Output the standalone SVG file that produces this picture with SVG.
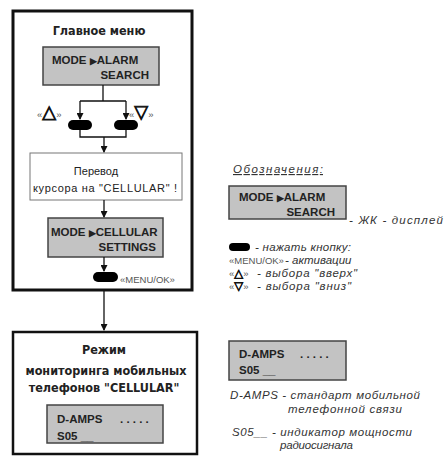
<svg xmlns="http://www.w3.org/2000/svg" width="447" height="456" viewBox="0 0 447 456">
  <style>
    .frame { fill: #fff; stroke: #111; }
    .lcd { fill: #c3c3c3; stroke: #444; stroke-width: 1.5; }
    .note { fill: #fff; stroke: #777; stroke-width: 1; }
    .btn { fill: #000; }
    .lcdt { font-family: "Liberation Sans", Arial, sans-serif; font-weight: bold; font-size: 11.5px; fill: #222; }
    .head { font-family: "DejaVu Sans Condensed", "DejaVu Sans", sans-serif; font-stretch: condensed; font-weight: bold; font-size: 12.5px; fill: #222; }
    .plain { font-family: "Liberation Sans", Arial, sans-serif; font-size: 11px; fill: #222; }
    .leg { font-family: "Liberation Sans", Arial, sans-serif; font-style: italic; font-size: 11.5px; fill: #333; }
    .quo { font-family: "Liberation Sans", Arial, sans-serif; font-size: 9.5px; fill: #555; }
    .tri { font-family: "DejaVu Sans", sans-serif; font-size: 18px; font-weight: bold; fill: #111; stroke: #111; stroke-width: 0.8; }
    .tri-s { font-family: "DejaVu Sans", sans-serif; font-size: 11.5px; font-weight: bold; fill: #111; stroke: #111; stroke-width: 0.7; }
    .wire { fill: none; stroke: #111; stroke-width: 1.3; }
  </style>
  <defs>
    <marker id="arr" markerUnits="userSpaceOnUse" markerWidth="7" markerHeight="7" viewBox="0 0 7 7" refX="6" refY="3.5" orient="auto">
      <path d="M0,0 L7,3.5 L0,7 Z" fill="#111"/>
    </marker>
  </defs>

  <!-- main menu frame -->
  <g id="main-menu">
    <rect class="frame" x="13" y="11" width="179" height="279" stroke-width="3"/>
    <text class="head" x="99" y="35" text-anchor="middle">Главное меню</text>
  </g>

  <g id="lcd-alarm">
    <rect class="lcd" x="43" y="47" width="116" height="38"/>
    <text class="lcdt" x="52" y="64">MODE <tspan font-size="9">▶</tspan>ALARM</text>
    <text class="lcdt" x="149" y="79" text-anchor="end">SEARCH</text>
  </g>

  <g id="btn-up">
    <rect class="btn" x="68" y="120" width="24" height="10" rx="5"/>
    <text x="37" y="118"><tspan class="quo">«</tspan><tspan class="tri">△</tspan><tspan class="quo">»</tspan></text>
  </g>

  <g id="btn-down">
    <rect class="btn" x="114" y="120" width="24" height="10" rx="5"/>
    <text x="129" y="118"><tspan class="quo">«</tspan><tspan class="tri">▽</tspan><tspan class="quo">»</tspan></text>
  </g>

  <g id="cursor-note">
    <rect class="note" x="30" y="153" width="152" height="47"/>
    <text class="plain" x="96" y="175" text-anchor="middle">Перевод</text>
    <text class="plain" x="33" y="192" textLength="144" lengthAdjust="spacing">курсора на "CELLULAR" !</text>
  </g>

  <g id="lcd-cellular">
    <rect class="lcd" x="48" y="218" width="115" height="39"/>
    <text class="lcdt" x="51" y="236">MODE <tspan font-size="9">▶</tspan>CELLULAR</text>
    <text class="lcdt" x="156" y="251" text-anchor="end">SETTINGS</text>
  </g>

  <g id="btn-menu">
    <rect class="btn" x="93" y="272" width="25" height="10" rx="5"/>
    <text class="quo" x="120" y="283" font-size="10.5">«MENU/OK»</text>
  </g>

  <!-- cellular monitoring mode -->
  <g id="cellular-mode">
    <rect class="frame" x="13" y="332" width="184" height="122" stroke="#222" stroke-width="2.5"/>
    <text class="head" x="104" y="354" text-anchor="middle">Режим</text>
    <text class="head" x="106" y="375" text-anchor="middle">мониторинга мобильных</text>
    <text class="head" x="104" y="392" text-anchor="middle">телефонов "CELLULAR"</text>
    <rect class="lcd" x="47" y="405" width="116" height="38"/>
    <text class="lcdt" x="57" y="423">D-AMPS</text>
    <text class="lcdt" x="120" y="423">. . . . .</text>
    <text class="lcdt" x="57" y="440">S05 __</text>
  </g>

  <!-- connectors -->
  <g id="connectors">
    <path class="wire" d="M103,85 V101 M80,101 H126"/>
    <path class="wire" d="M80,101 V119" marker-end="url(#arr)"/>
    <path class="wire" d="M126,101 V119" marker-end="url(#arr)"/>
    <path class="wire" d="M80,130 V137 H126 V130"/>
    <path class="wire" d="M104,137 V152" marker-end="url(#arr)"/>
    <path class="wire" d="M104,200 V217" marker-end="url(#arr)"/>
    <path class="wire" d="M104,257 V271" marker-end="url(#arr)"/>
    <path class="wire" d="M104,291 V330" stroke-width="2.5" marker-end="url(#arr)"/>
  </g>

  <!-- legend -->
  <g id="legend">
    <text class="leg" x="233" y="173" text-decoration="underline" font-size="12.5" textLength="90" lengthAdjust="spacing">Обозначения:</text>
    <rect class="lcd" x="229" y="186" width="117" height="33"/>
    <text class="lcdt" x="239" y="201">MODE <tspan font-size="9">▶</tspan>ALARM</text>
    <text class="lcdt" x="335" y="216" text-anchor="end">SEARCH</text>
    <text class="leg" x="349" y="224" textLength="94" lengthAdjust="spacing">- ЖК - дисплей</text>

    <rect class="btn" x="229" y="243" width="21" height="8" rx="4"/>
    <text class="leg" x="255" y="251" textLength="96" lengthAdjust="spacing">- нажать кнопку:</text>
    <text class="quo" x="229" y="264" font-size="10.5">«MENU/OK»</text>
    <text class="leg" x="285" y="264">- активации</text>
    <text x="229" y="277"><tspan class="quo">«</tspan><tspan class="tri-s">△</tspan><tspan class="quo">»</tspan></text>
    <text class="leg" x="257" y="277" textLength="100" lengthAdjust="spacing">-  выбора "вверх"</text>
    <text x="229" y="290"><tspan class="quo">«</tspan><tspan class="tri-s">▽</tspan><tspan class="quo">»</tspan></text>
    <text class="leg" x="257" y="290" textLength="94" lengthAdjust="spacing">-  выбора "вниз"</text>

    <rect class="lcd" x="229" y="341" width="117" height="39"/>
    <text class="lcdt" x="239" y="358">D-AMPS</text>
    <text class="lcdt" x="300" y="358">. . . . .</text>
    <text class="lcdt" x="239" y="374">S05 __</text>
    <text class="leg" x="230" y="399" textLength="190" lengthAdjust="spacing">D-AMPS - стандарт мобильной</text>
    <text class="leg" x="288" y="413" textLength="114" lengthAdjust="spacing">телефонной связи</text>
    <text class="leg" x="232" y="436" textLength="180" lengthAdjust="spacing">S05__ - индикатор мощности</text>
    <text class="leg" x="280" y="449" textLength="73" lengthAdjust="spacing">радиосигнала</text>
  </g>
</svg>
